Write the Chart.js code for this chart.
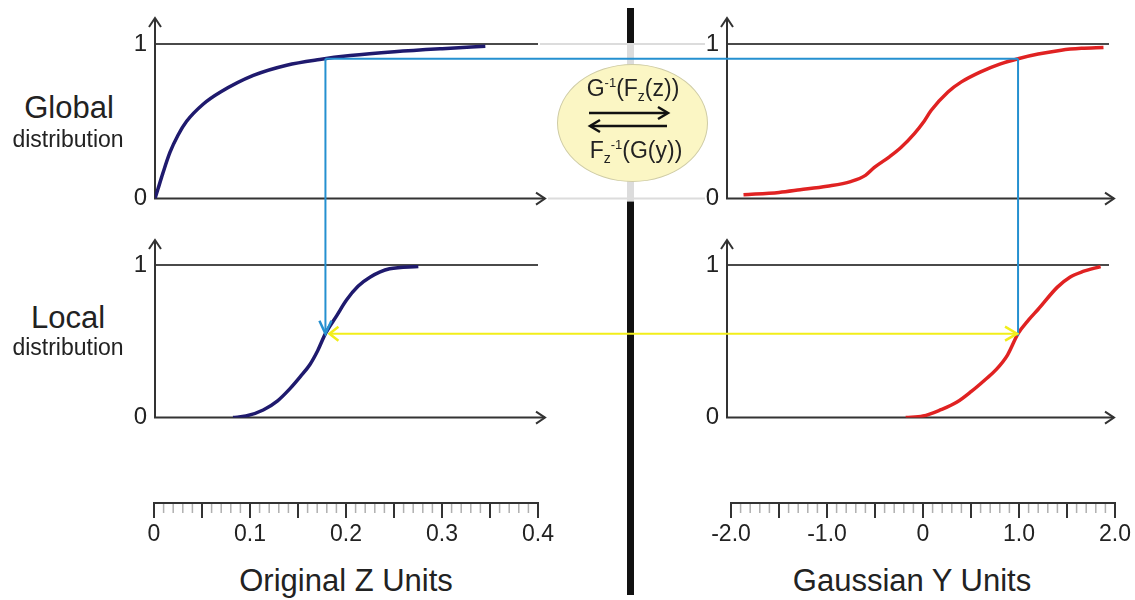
<!DOCTYPE html>
<html>
<head>
<meta charset="utf-8">
<title>Gaussian transform: global vs local distribution</title>
<script src="https://cdn.jsdelivr.net/npm/chart.js@4.4.1/dist/chart.umd.min.js"></script>
<style>
  html, body { margin: 0; padding: 0; background: #fff; }
  #page { position: relative; width: 1135px; height: 600px; overflow: hidden;
          font-family: "Liberation Sans", Arial, sans-serif; color: #222; }
  #page canvas { position: absolute; }
  .lbl { position: absolute; white-space: nowrap; line-height: 1; transform: translate(-50%, -50%); }
  .big { font-size: 31px; }
  .small { font-size: 23px; }
  #ellipse { position: absolute; left: 557px; top: 64px; width: 149px; height: 116px;
             border-radius: 50%; background: #fbf6c4; border: 1px solid #cfcca6; z-index: 3; }
  .eq { font-size: 23px; }
  .eq sup { font-size: 13px; vertical-align: 9px; }
  .eq sub { font-size: 14px; vertical-align: -5px; }
  #eqArrows { position: absolute; left: 587px; top: 104px; z-index: 4; }
</style>
</head>
<body>
<div id="page">
  <canvas id="lt" width="431" height="207" style="left:121px;top:14px"></canvas>
  <canvas id="lb" width="431" height="205" style="left:121px;top:235px"></canvas>
  <canvas id="rt" width="428" height="207" style="left:693px;top:14px"></canvas>
  <canvas id="rb" width="428" height="205" style="left:693px;top:235px"></canvas>
  <canvas id="rulerZ" width="464" height="90" style="left:114px;top:463px"></canvas>
  <canvas id="rulerY" width="464" height="90" style="left:691px;top:463px"></canvas>
  <canvas id="overlay" width="1135" height="600" style="left:0;top:0;z-index:2;pointer-events:none"></canvas>

  <div class="lbl big" style="left:69px;top:107px">Global</div>
  <div class="lbl small" style="left:68px;top:139px">distribution</div>
  <div class="lbl big" style="left:68px;top:317px">Local</div>
  <div class="lbl small" style="left:68px;top:347px">distribution</div>
  <div class="lbl big" style="left:346px;top:580px">Original Z Units</div>
  <div class="lbl big" style="left:912px;top:580px">Gaussian Y Units</div>

  <div id="ellipse"></div>
  <div class="lbl eq" style="left:633px;top:89px;z-index:4">G<sup>-1</sup>(F<sub>z</sub>(z))</div>
  <svg id="eqArrows" width="90" height="30">
    <g stroke="#111" stroke-width="2.5" fill="none">
      <line x1="2" y1="9" x2="80" y2="9"/>
      <polyline points="71,3 81,9 71,15"/>
      <line x1="4" y1="22" x2="80" y2="22"/>
      <polyline points="13,16 3,22 13,28"/>
    </g>
  </svg>
  <div class="lbl eq" style="left:636px;top:151px;z-index:4">F<sub>z</sub><sup>-1</sup>(G(y))</div>
</div>

<script>
// --- DATA ---
// global CDF of the original variable (top left)
const Z_GLOBAL = [0, 0.003, 0.008, 0.0157, 0.024, 0.033, 0.0505, 0.068, 0.1027, 0.1375, 0.172, 0.204, 0.25, 0.3, 0.345];
const F_Z_GLOBAL = [0, 0.06, 0.16, 0.3, 0.41, 0.5, 0.612, 0.688, 0.797, 0.863, 0.9, 0.925, 0.95, 0.97, 0.985];
// local CDF of the original variable (bottom left)
const Z_LOCAL = [0.0815, 0.095, 0.113, 0.128, 0.141, 0.152, 0.162, 0.17, 0.178, 0.19, 0.2, 0.212, 0.2245, 0.245, 0.275];
const F_Z_LOCAL = [0, 0.01, 0.05, 0.11, 0.19, 0.27, 0.35, 0.44, 0.55, 0.67, 0.77, 0.86, 0.92, 0.975, 0.99];
// global CDF in gaussian units (top right)
const Y_GLOBAL = [-1.87, -1.5, -1.28, -1.0, -0.754, -0.6, -0.51, -0.35, -0.23, -0.09, 0, 0.084, 0.26, 0.4, 0.6, 0.8, 0.99, 1.2, 1.44, 1.65, 1.88];
const G_Y_GLOBAL = [0.025, 0.04, 0.057, 0.08, 0.11, 0.15, 0.2, 0.27, 0.33, 0.42, 0.49, 0.57, 0.69, 0.755, 0.82, 0.87, 0.905, 0.935, 0.96, 0.972, 0.978];
// local CDF in gaussian units (bottom right)
const Y_LOCAL = [-0.18, 0, 0.18, 0.35, 0.5, 0.65, 0.764, 0.88, 0.99, 1.1, 1.2, 1.4, 1.53, 1.66, 1.85];
const G_Y_LOCAL = [0, 0.01, 0.05, 0.1, 0.17, 0.25, 0.316, 0.41, 0.55, 0.64, 0.71, 0.855, 0.92, 0.956, 0.99];

// the worked example traced by the arrows
const SEL_Z = 0.178;
const SEL_Y = 0.99;
const SEL_F_GLOBAL = 0.905;
const SEL_F_LOCAL = 0.55;

// ruler axes
const Z_RANGE = [0, 0.4];
const Z_MINOR = 0.01;
const Z_TICK_VALUES = [0, 0.1, 0.2, 0.3, 0.4];
const Z_TICK_LABELS = ['0', '0.1', '0.2', '0.3', '0.4'];
const Y_RANGE = [-2, 2];
const Y_MINOR = 0.1;
const Y_TICK_VALUES = [-2, -1, 0, 1, 2];
const Y_TICK_LABELS = ['-2.0', '-1.0', '0', '1.0', '2.0'];
// panel x extents (y axis position .. end of the "1" line)
const Z_PANEL = [0, 0.4];
const Y_PANEL = [-2.042, 1.9375];
const PROB_TICKS = [0, 1];

const NAVY = '#1f1a6e';
const RED = '#e02222';
const BLUE = '#2590d0';
const YELLOW = '#f2ee1a';

Chart.defaults.font.family = '"Liberation Sans", Arial, sans-serif';
Chart.defaults.color = '#222';

const toPoints = (xs, ys) => xs.map((x, i) => ({ x, y: ys[i] }));

// axes with arrowheads + the "1" reference line
const panelAxes = {
  id: 'panelAxes',
  beforeDatasetsDraw(chart, args, opts) {
    const { ctx, chartArea: a, scales: { y } } = chart;
    const y0 = y.getPixelForValue(0);
    const y1 = y.getPixelForValue(1);
    ctx.save();
    ctx.lineWidth = 2;
    ctx.strokeStyle = '#4a4a4a';
    ctx.beginPath(); ctx.moveTo(a.left, y1); ctx.lineTo(a.right, y1); ctx.stroke();
    ctx.strokeStyle = '#333';
    const top = y1 - opts.up;
    const end = a.right + opts.right;
    ctx.beginPath(); ctx.moveTo(a.left, top); ctx.lineTo(a.left, y0); ctx.lineTo(end, y0); ctx.stroke();
    ctx.beginPath(); ctx.moveTo(a.left - 6, top + 9); ctx.lineTo(a.left, top); ctx.lineTo(a.left + 6, top + 9); ctx.stroke();
    ctx.beginPath(); ctx.moveTo(end - 9, y0 - 6); ctx.lineTo(end, y0); ctx.lineTo(end - 9, y0 + 6); ctx.stroke();
    ctx.restore();
  }
};

function makePanel(id, xRange, xs, ys, color, opts) {
  return new Chart(document.getElementById(id), {
    type: 'line',
    data: {
      datasets: [{
        data: toPoints(xs, ys),
        borderColor: color,
        borderWidth: 3.5,
        pointRadius: 0,
        cubicInterpolationMode: 'monotone',
        fill: false
      }]
    },
    options: {
      responsive: false,
      animation: false,
      events: [],
      layout: { padding: { left: 0, top: 30, right: opts.right + 7, bottom: 20 } },
      plugins: { legend: { display: false }, tooltip: { enabled: false }, panelAxes: opts },
      scales: {
        x: { type: 'linear', min: xRange[0], max: xRange[1], display: false },
        y: {
          min: 0, max: 1,
          afterBuildTicks: s => { s.ticks = PROB_TICKS.map(v => ({ value: v })); },
          afterFit: s => { s.width = 34; },
          ticks: { font: { size: 24 }, color: '#222', padding: 8 },
          grid: { display: false, drawTicks: false },
          border: { display: false }
        }
      }
    },
    plugins: [panelAxes]
  });
}

// ruler-style axis: minor ticks light, every fifth one long and dark
const rulerMarks = {
  id: 'rulerMarks',
  afterDraw(chart, args, opts) {
    const { ctx } = chart;
    const s = chart.scales.x;
    const y0 = s.top;
    ctx.save();
    s.ticks.forEach((t, i) => {
      const px = s.getPixelForValue(t.value);
      const major = i % opts.majorEvery === 0;
      ctx.strokeStyle = major ? '#333' : '#b0b0b0';
      ctx.lineWidth = major ? 2 : 1.5;
      ctx.beginPath(); ctx.moveTo(px, y0); ctx.lineTo(px, y0 + (major ? 15 : 10)); ctx.stroke();
    });
    ctx.strokeStyle = '#333';
    ctx.lineWidth = 2;
    ctx.beginPath(); ctx.moveTo(s.left - 1, y0); ctx.lineTo(s.right + 1, y0); ctx.stroke();
    ctx.restore();
  }
};

function makeRuler(id, range, step, tickValues, tickLabels) {
  const n = Math.round((range[1] - range[0]) / step);
  return new Chart(document.getElementById(id), {
    type: 'line',
    data: { datasets: [] },
    options: {
      responsive: false,
      animation: false,
      events: [],
      layout: { padding: { left: 40, right: 40, top: 0, bottom: 0 } },
      plugins: { legend: { display: false }, tooltip: { enabled: false }, rulerMarks: { majorEvery: 5 } },
      scales: {
        x: {
          type: 'linear', min: range[0], max: range[1],
          afterBuildTicks: s => {
            s.ticks = Array.from({ length: n + 1 }, (_, i) => ({ value: range[0] + i * step }));
          },
          afterFit: s => { s.height = 50; },
          ticks: {
            autoSkip: false, maxRotation: 0, font: { size: 23 }, color: '#222', padding: 18,
            callback: v => {
              const k = tickValues.findIndex(t => Math.abs(t - v) < 1e-6);
              return k >= 0 ? tickLabels[k] : '';
            }
          },
          grid: { display: false, drawTicks: false },
          border: { display: false }
        },
        y: { display: false }
      }
    },
    plugins: [rulerMarks]
  });
}

const lt = makePanel('lt', Z_PANEL, Z_GLOBAL, F_Z_GLOBAL, NAVY, { up: 26, right: 7 });
const lb = makePanel('lb', Z_PANEL, Z_LOCAL, F_Z_LOCAL, NAVY, { up: 25, right: 7 });
const rt = makePanel('rt', Y_PANEL, Y_GLOBAL, G_Y_GLOBAL, RED, { up: 26, right: 5 });
const rb = makePanel('rb', Y_PANEL, Y_LOCAL, G_Y_LOCAL, RED, { up: 25, right: 5 });
makeRuler('rulerZ', Z_RANGE, Z_MINOR, Z_TICK_VALUES, Z_TICK_LABELS);
makeRuler('rulerY', Y_RANGE, Y_MINOR, Y_TICK_VALUES, Y_TICK_LABELS);

// --- OVERLAY: divider, connecting arrows (positions via the panels' scales) ---
function px(chart, axis, v) {
  const c = chart.canvas;
  return axis === 'x' ? c.offsetLeft + chart.scales.x.getPixelForValue(v)
                      : c.offsetTop + chart.scales.y.getPixelForValue(v);
}

function drawOverlay() {
  const ctx = document.getElementById('overlay').getContext('2d');
  const topOne = px(lt, 'y', 1), topZero = px(lt, 'y', 0);

  // thick divider, faded behind the equation
  ctx.fillStyle = '#111';
  ctx.fillRect(627, 8, 7, 587);
  ctx.fillStyle = '#dcdcdc';
  ctx.fillRect(627, topOne - 1, 7, topZero - topOne + 4);

  // faint continuation of the top panels' lines
  ctx.strokeStyle = '#dcdcdc';
  ctx.lineWidth = 2;
  const gapL = lt.canvas.offsetLeft + lt.chartArea.right + 2;
  const gapR = rt.canvas.offsetLeft + rt.chartArea.left - 22;
  ctx.beginPath(); ctx.moveTo(gapL, topOne); ctx.lineTo(gapR, topOne); ctx.stroke();
  ctx.beginPath(); ctx.moveTo(gapL + 8, topZero); ctx.lineTo(gapR, topZero); ctx.stroke();

  const zx = px(lt, 'x', SEL_Z);
  const yx = px(rt, 'x', SEL_Y);
  const fg = px(lt, 'y', SEL_F_GLOBAL);
  const fl = px(lb, 'y', SEL_F_LOCAL);

  // blue path: z -> F(z) -> G^-1 and down to local CDF
  ctx.strokeStyle = BLUE;
  ctx.lineWidth = 2;
  ctx.beginPath(); ctx.moveTo(zx, fg); ctx.lineTo(yx, fg); ctx.stroke();
  ctx.beginPath(); ctx.moveTo(zx, fg); ctx.lineTo(zx, fl); ctx.stroke();
  ctx.beginPath(); ctx.moveTo(yx, fg); ctx.lineTo(yx, fl + 2); ctx.stroke();
  ctx.lineWidth = 2.5;
  ctx.beginPath(); ctx.moveTo(zx - 6, fl - 13); ctx.lineTo(zx, fl); ctx.lineTo(zx + 6, fl - 13); ctx.stroke();

  // yellow double arrow between the local CDFs
  ctx.strokeStyle = YELLOW;
  ctx.lineWidth = 2;
  const a0 = zx + 4, a1 = yx - 1;
  ctx.beginPath(); ctx.moveTo(a0, fl); ctx.lineTo(a1, fl); ctx.stroke();
  ctx.lineWidth = 2.5;
  ctx.beginPath(); ctx.moveTo(a0 + 9, fl - 7); ctx.lineTo(a0, fl); ctx.lineTo(a0 + 9, fl + 7); ctx.stroke();
  ctx.beginPath(); ctx.moveTo(a1 - 12, fl - 7); ctx.lineTo(a1, fl); ctx.lineTo(a1 - 12, fl + 7); ctx.stroke();
}

drawOverlay();
</script>
</body>
</html>
